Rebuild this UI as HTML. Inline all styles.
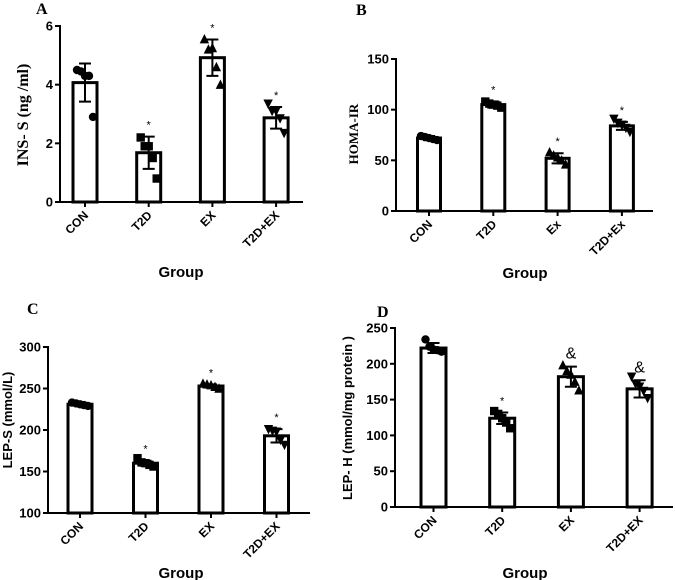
<!DOCTYPE html>
<html><head><meta charset="utf-8"><style>
html,body{margin:0;padding:0;background:#fff}
svg{display:block}
</style></head><body>
<svg id="fig" width="675" height="580" viewBox="0 0 675 580"></svg>
<script>
const categoriesA=["CON","T2D","EX","T2D+EX"];
const meansA=[4.07,1.68,4.92,2.87];
const sdsA=[0.65,0.55,0.62,0.37];
const pointsA=[[4.5,4.45,4.3,4.3,2.9],[2.2,1.9,1.9,1.5,0.8],[5.55,5.2,5.25,4.6,4.0],[3.35,3.1,3.1,2.85,2.35]];
const ticksA=[0,2,4,6];
const marksA=["","*","*","*"];

const categoriesB=["CON","T2D","Ex","T2D+Ex"];
const meansB=[72,105,52,84];
const sdsB=[2,3,5,4];
const pointsB=[[74,73,72,71,70],[108,106,105,104,102],[58,55,53,50,46],[91,87,85,82,78]];
const ticksB=[0,50,100,150];
const marksB=["","*","*","*"];

const categoriesC=["CON","T2D","EX","T2D+EX"];
const meansC=[231,160,253,193];
const sdsC=[2,3,2,8];
const pointsC=[[233,232,231,230,229],[166,161,160,158,156],[256,255,254,252,250],[201,199,198,188,182]];
const ticksC=[100,150,200,250,300];
const marksC=["","*","*","*"];

const categoriesD=["CON","T2D","EX","T2D+EX"];
const meansD=[222,124,182,165];
const sdsD=[7,8,14,12];
const pointsD=[[234,224,220,219,217],[134,130,124,118,110],[198,190,185,175,163],[182,172,168,162,152]];
const ticksD=[0,50,100,150,200,250];
const marksD=["","*","&","&"];

const NS="http://www.w3.org/2000/svg";
const svg=document.getElementById('fig');
const SANS='"Liberation Sans",Arial,sans-serif';
const SERIF='"Liberation Serif","Times New Roman",serif';
function mk(tag,attrs,parent){const e=document.createElementNS(NS,tag);for(const k in attrs)e.setAttribute(k,attrs[k]);(parent||svg).appendChild(e);return e;}
function txt(attrs,fam,parent){const e=mk('text',attrs,parent);e.style.fontFamily=fam||SANS;e.setAttribute('fill','#000');return e;}
const shapes=["circle","square","tri","itri"];
const jitter=[-8,-4,0,4,8];

function panel(cfg){
  const g=mk('g',{});
  
  
  const y=v=>cfg.y0+(v-cfg.vmin)/(cfg.vmax-cfg.vmin)*(cfg.y1-cfg.y0);
  const lt=txt({x:cfg.lx,y:cfg.ly,'font-weight':'bold','font-size':16},SERIF,g);
  lt.textContent=cfg.letter;
  
  
  const ax=mk('line',{x1:cfg.ax,y1:y(cfg.vmax)-1,x2:cfg.ax,y2:cfg.y0+1,stroke:'#000','stroke-width':2},g);
  
  
  const xa=mk('line',{x1:cfg.ax-1,y1:cfg.y0,x2:cfg.xend,y2:cfg.y0,stroke:'#000','stroke-width':2},g);
  
  
  cfg.ticks.forEach(t=>{
    mk('line',{x1:cfg.ax-5,y1:y(t),x2:cfg.ax,y2:y(t),stroke:'#000','stroke-width':2},g);
    const tl=txt({x:cfg.ax-7,y:y(t)+4.5,'text-anchor':'end','font-weight':'bold','font-size':13},SANS,g);
    tl.textContent=t;
    
    
  });
  cfg.cats.forEach((c,i)=>{
    const cx=cfg.ax+cfg.first+i*cfg.gap;
    const top=y(cfg.means[i]);
    const b=mk('rect',{x:cx-cfg.bw/2,y:top,width:cfg.bw,height:cfg.y0-top,fill:'#fff',stroke:'#000','stroke-width':3},g);
    
    
    const hi=y(cfg.means[i]+cfg.sds[i]),lo=y(cfg.means[i]-cfg.sds[i]);
    const eb=mk('path',{d:`M${cx},${hi}V${lo}M${cx-6},${hi}H${cx+6}M${cx-6},${lo}H${cx+6}`,stroke:'#000','stroke-width':2,fill:'none'},g);
    
    
    cfg.points[i].forEach((v,j)=>{
      const px=cx+jitter[j],py=y(v),s=4.2;let p;
      if(shapes[i]==="circle")p=mk('circle',{cx:px,cy:py,r:s},g);
      else if(shapes[i]==="square")p=mk('rect',{x:px-s,y:py-s,width:2*s,height:2*s},g);
      else if(shapes[i]==="tri")p=mk('path',{d:`M${px},${py-s-1}L${px+s+0.5},${py+s}L${px-s-0.5},${py+s}Z`},g);
      else p=mk('path',{d:`M${px},${py+s+1}L${px+s+0.5},${py-s}L${px-s-0.5},${py-s}Z`},g);
      p.setAttribute('fill','#000');
      
      
    });
    if(cfg.marks[i]){
      const m=cfg.marks[i];
      const mt=txt({x:cx,y:m==="&"?hi-8:hi-8,'text-anchor':'middle','font-size':m==="&"?16:11},m==="&"?SANS:SANS,g);
      mt.textContent=m;
      
      
    }
    mk('line',{x1:cx,y1:cfg.y0,x2:cx,y2:cfg.y0+5,stroke:'#000','stroke-width':2},g);
    const xl=txt({x:cx+4,y:cfg.y0+14,'text-anchor':'end','font-weight':'bold','font-size':12,transform:`rotate(-45 ${cx+4} ${cfg.y0+14})`},SANS,g);
    xl.textContent=c;
    
    
  });
  const xt=txt({x:cfg.gx,y:cfg.gy,'text-anchor':'middle','font-weight':'bold','font-size':15},SANS,g);
  xt.textContent='Group';
  
  
  const yt=txt({x:cfg.tx,y:cfg.ty,'text-anchor':'middle','font-weight':'bold','font-size':cfg.tfs,transform:`rotate(-90 ${cfg.tx} ${cfg.ty})`},cfg.serif?SERIF:SANS,g);
  yt.textContent=cfg.title;
  
  
}

panel({letter:'A',lx:36,ly:14,ax:60,xend:303,y0:202,y1:26,vmin:0,vmax:6,first:25,gap:63.7,bw:24,
  cats:categoriesA,means:meansA,sds:sdsA,points:pointsA,ticks:ticksA,marks:marksA,
  gx:181,gy:277,tx:28,ty:115,title:'INS- S (ng /ml)',tfs:16,serif:true});
panel({letter:'B',lx:356,ly:15,ax:396,xend:653,y0:211,y1:59,vmin:0,vmax:150,first:33,gap:64.3,bw:23,
  cats:categoriesB,means:meansB,sds:sdsB,points:pointsB,ticks:ticksB,marks:marksB,
  gx:525,gy:278,tx:358,ty:134,title:'HOMA-IR',tfs:13,serif:true});
panel({letter:'C',lx:27,ly:314,ax:48,xend:310,y0:513,y1:347,vmin:100,vmax:300,first:32,gap:65.5,bw:24,
  cats:categoriesC,means:meansC,sds:sdsC,points:pointsC,ticks:ticksC,marks:marksC,
  gx:181,gy:578,tx:12,ty:420,title:'LEP-S (mmol/L)',tfs:13,serif:false});
panel({letter:'D',lx:377,ly:317,ax:395,xend:673,y0:507,y1:328,vmin:0,vmax:250,first:38.5,gap:68.7,bw:25,
  cats:categoriesD,means:meansD,sds:sdsD,points:pointsD,ticks:ticksD,marks:marksD,
  gx:525,gy:578,tx:352,ty:418,title:'LEP- H (mmol/mg protein )',tfs:13,serif:false});
</script>
</body></html>
